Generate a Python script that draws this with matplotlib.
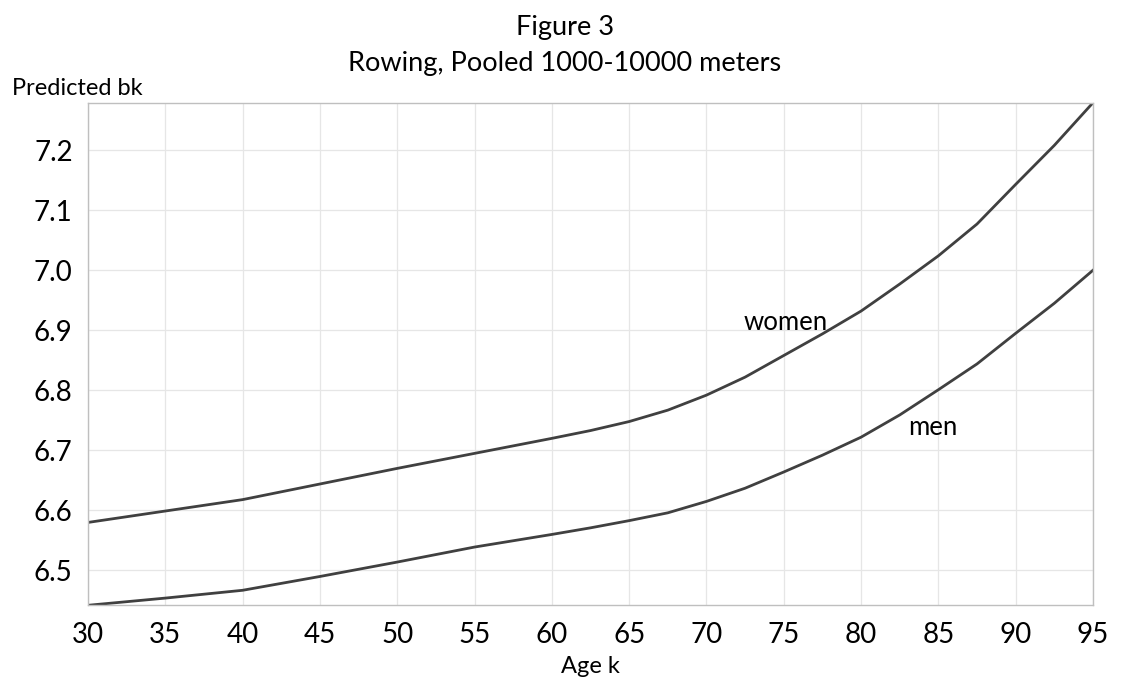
import matplotlib
matplotlib.use("Agg")
import matplotlib.pyplot as plt

ages = [30, 35, 40, 45, 50, 55, 60, 62.5, 65, 67.5, 70, 72.5, 75, 77.5, 80, 82.5, 85, 87.5, 90, 92.5, 95]
women = [6.580, 6.599, 6.618, 6.644, 6.670, 6.695, 6.720, 6.733, 6.748, 6.767, 6.792, 6.822,
         6.858, 6.894, 6.932, 6.977, 7.024, 7.077, 7.143, 7.208, 7.279]
men = [6.442, 6.454, 6.467, 6.490, 6.514, 6.539, 6.560, 6.571, 6.583, 6.596, 6.615, 6.637,
       6.664, 6.692, 6.722, 6.759, 6.801, 6.844, 6.895, 6.945, 7.000]
xticks = [30, 35, 40, 45, 50, 55, 60, 65, 70, 75, 80, 85, 90, 95]
yticks = [6.5, 6.6, 6.7, 6.8, 6.9, 7.0, 7.1, 7.2]

plt.rcParams['font.family'] = ['Lato', 'DejaVu Sans']

W, H = 1123, 683
fig = plt.figure(figsize=(W / 100, H / 100), dpi=100)
ax = fig.add_axes([88 / W, 1 - 605.3 / H, (1093 - 88) / W, (605.3 - 102.7) / H])

line_color = '#404040'
ax.plot(ages, women, color=line_color, lw=2.0, solid_joinstyle='round')
ax.plot(ages, men, color=line_color, lw=2.0, solid_joinstyle='round')

ax.set_xlim(30, 95)
ax.set_ylim(min(men), max(women))
ax.set_xticks(xticks)
ax.set_yticks(yticks)
ax.set_yticklabels([f"{v:.1f}" for v in yticks])
ax.grid(True, color='#e6e6e6', lw=0.9)
ax.set_axisbelow(True)
for s in ax.spines.values():
    s.set_color('#bfbfbf')
    s.set_linewidth(1.0)
ax.tick_params(length=0, labelsize=20, colors='black')
ax.tick_params(axis='y', pad=11)
ax.tick_params(axis='x', pad=12)

ax.text(72.4, 6.900, 'women', fontsize=18.5, ha='left', va='baseline')
ax.text(83.05, 6.725, 'men', fontsize=18.5, ha='left', va='baseline')

fig.text(565 / W, 1 - 35 / H, 'Figure 3', ha='center', va='baseline', fontsize=19.5)
fig.text(565 / W, 1 - 71 / H, 'Rowing, Pooled 1000-10000 meters', ha='center', va='baseline', fontsize=19.5)
fig.text(12 / W, 1 - 95 / H, 'Predicted bk', ha='left', va='baseline', fontsize=17)
fig.text(590 / W, 1 - 673 / H, 'Age k', ha='center', va='baseline', fontsize=17)

fig.savefig('out.png', dpi=100)
